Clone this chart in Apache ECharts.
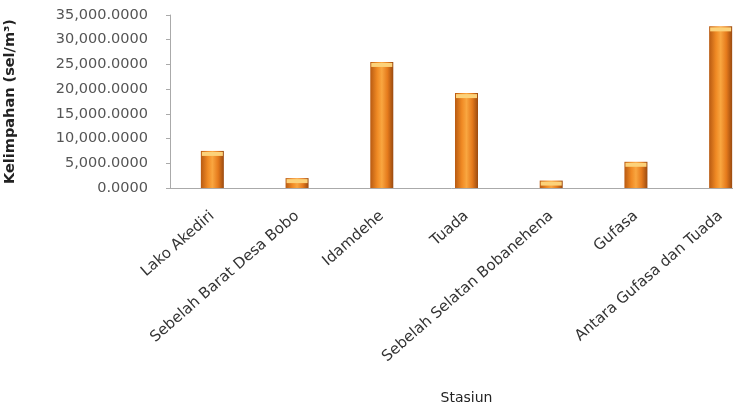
<!DOCTYPE html>
<html>
<head>
<meta charset="utf-8">
<script src="https://cdn.jsdelivr.net/npm/echarts@6/dist/echarts.min.js"></script>
<style>
  html, body { margin: 0; padding: 0; background: #fff; }
  #chart { width: 733px; height: 406px; }
</style>
</head>
<body>
<div id="chart"></div>
<script>
// stasiun & kelimpahan (sel/m3)
const categories = ['Lako Akediri', 'Sebelah Barat Desa Bobo', 'Idamdehe', 'Tuada',
  'Sebelah Selatan Bobanehena', 'Gufasa', 'Antara Gufasa dan Tuada'];
const values = [7500, 2000, 25500, 19200, 1500, 5300, 32700];
const yTicks = [0, 5000, 10000, 15000, 20000, 25000, 30000, 35000];

const chart = echarts.init(document.getElementById('chart'));

const fmt = (v) => v.toLocaleString('en-US', { minimumFractionDigits: 4, maximumFractionDigits: 4 });

const option = {
  animation: false,
  textStyle: { fontFamily: 'DejaVu Sans, sans-serif' },
  grid: {
    left: 170,
    width: 593, // chart runs past the right edge of the picture
    top: 15,
    height: 173,
    outerBoundsMode: 'none',
    containLabel: false,
  },
  xAxis: {
    type: 'category',
    data: categories,
    name: 'Stasiun',
    nameLocation: 'middle',
    nameGap: 203,
    nameTextStyle: { color: '#222', fontSize: 14 },
    axisLine: { lineStyle: { color: '#aaa' } },
    axisTick: { show: false },
    axisLabel: {
      rotate: 41,
      interval: 0,
      color: '#333',
      fontSize: 15,
      margin: 26,
    },
  },
  yAxis: {
    type: 'value',
    min: yTicks[0],
    max: yTicks[yTicks.length - 1],
    interval: 5000,
    name: 'Kelimpahan (sel/m³)',
    nameLocation: 'middle',
    nameGap: 152,
    nameRotate: 90,
    nameTextStyle: { color: '#222', fontSize: 14.5, fontWeight: 'bold' },
    axisLine: { show: true, lineStyle: { color: '#aaa' } },
    axisTick: { show: true, length: 4, inside: false, lineStyle: { color: '#aaa' } },
    splitLine: { show: false },
    axisLabel: {
      color: '#555',
      fontSize: 14.5,
      margin: 22,
      formatter: (v) => fmt(v),
    },
  },
  series: [{
    type: 'bar',
    data: values,
    barWidth: 23,
    itemStyle: {
      color: {
        type: 'linear',
        x: 0, y: 0, x2: 1, y2: 0,
        colorStops: [
          { offset: 0, color: '#b85a12' },
          { offset: 0.3, color: '#f08a24' },
          { offset: 0.5, color: '#f9a640' },
          { offset: 0.75, color: '#e57a1c' },
          { offset: 1, color: '#9a4a10' },
        ],
      },
    },
  }, {
    type: 'pictorialBar',
    data: values,
    symbol: 'rect',
    symbolSize: [21, 4],
    symbolPosition: 'end',
    symbolOffset: [0, 1],
    z: 3,
    itemStyle: { color: '#fcd27a' },
  }],
};

chart.setOption(option);
</script>
</body>
</html>
